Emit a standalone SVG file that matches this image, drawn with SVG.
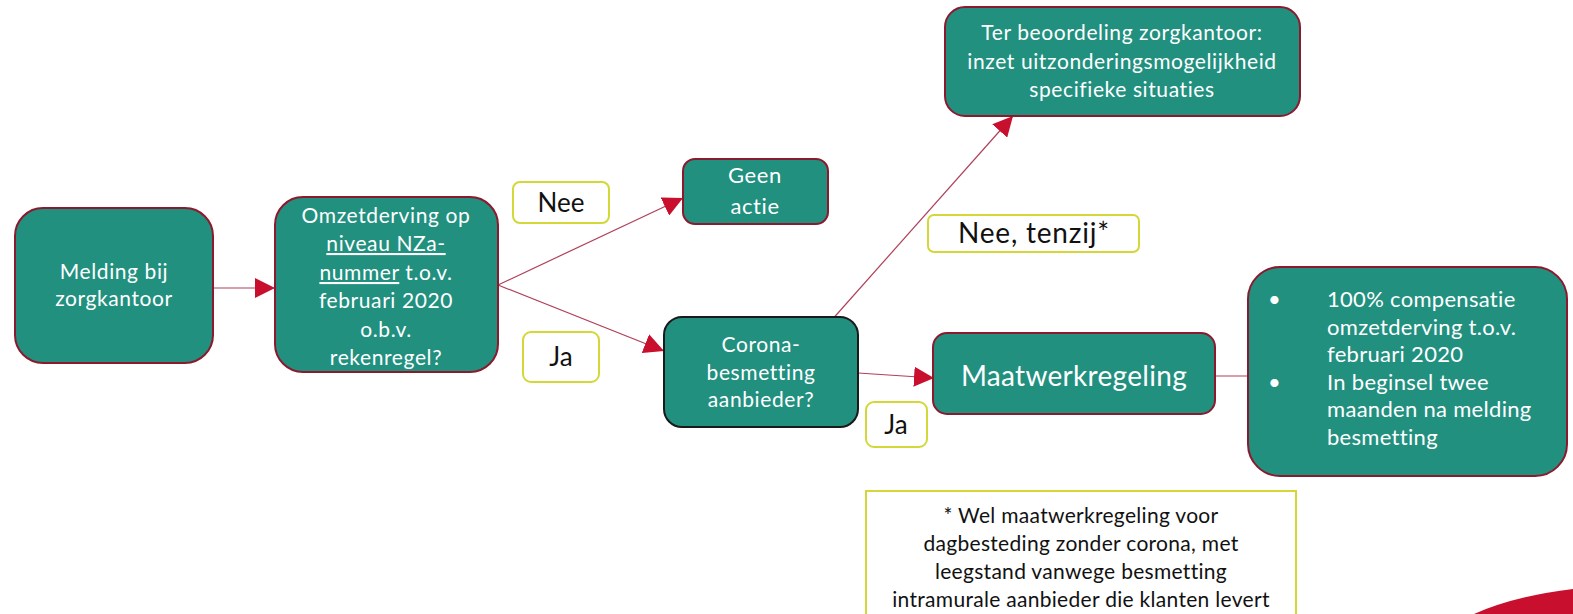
<svg xmlns="http://www.w3.org/2000/svg" width="1573" height="614" viewBox="0 0 1573 614">
<style>
.node{fill:#21907f;stroke:#8b1a2e;stroke-width:2}
.nodeb{fill:#21907f;stroke:#1a1a1a;stroke-width:2}
.lab{fill:#ffffff;stroke:#d3d838;stroke-width:2}
.t{font-family:Lato,"Open Sans",sans-serif;fill:#ffffff;text-anchor:middle;font-size:21px;letter-spacing:0.6px}
.b{font-family:Lato,"Open Sans",sans-serif;fill:#ffffff;text-anchor:start;font-size:22px;letter-spacing:0.3px}
.k{font-family:Lato,"Noto Sans",sans-serif;fill:#111111;text-anchor:middle}
.c{stroke:#b0405a;stroke-width:1.2;fill:none}
</style>
<defs>
<marker id="ahl" viewBox="0 0 10 10" refX="10" refY="5" markerWidth="20" markerHeight="20" markerUnits="userSpaceOnUse" orient="auto">
<path d="M0,0 L10,5 L0,10 Z" fill="#c8102e"/>
</marker>
</defs>
<g id="connectors">
<line class="c" x1="213" y1="288" x2="275" y2="288" marker-end="url(#ahl)"/>
<line class="c" x1="498" y1="285" x2="683" y2="198" marker-end="url(#ahl)"/>
<line class="c" x1="498" y1="285" x2="664" y2="351" marker-end="url(#ahl)"/>
<line class="c" x1="830" y1="322" x2="1013" y2="116" marker-end="url(#ahl)"/>
<line class="c" x1="858" y1="373" x2="934" y2="378" marker-end="url(#ahl)"/>
<line class="c" x1="1216" y1="376" x2="1249" y2="376"/>
</g>
<g id="melding">
<rect class="node" x="15" y="208" width="198" height="155" rx="28"/>
<text class="t" x="114" y="279">Melding bij</text>
<text class="t" x="114" y="306">zorgkantoor</text>
</g>
<g id="omzetderving">
<rect class="node" x="275" y="197" width="223" height="175" rx="28"/>
<text class="t" x="386" y="223">Omzetderving op</text>
<text class="t" x="386" y="251" text-decoration="underline">niveau NZa-</text>
<text class="t" x="386" y="280"><tspan text-decoration="underline">nummer</tspan> t.o.v.</text>
<text class="t" x="386" y="308">februari 2020</text>
<text class="t" x="386" y="337">o.b.v.</text>
<text class="t" x="386" y="365">rekenregel?</text>
</g>
<g id="label-nee">
<rect class="lab" x="513" y="182" width="96" height="41" rx="7"/>
<text class="k" x="561" y="212" font-size="26">Nee</text>
</g>
<g id="geen-actie">
<rect class="node" x="683" y="159" width="145" height="65" rx="12"/>
<text class="t" x="755" y="183" style="font-size:22px">Geen</text>
<text class="t" x="755" y="214" style="font-size:22px">actie</text>
</g>
<g id="label-ja1">
<rect class="lab" x="523" y="332" width="76" height="50" rx="8"/>
<text class="k" x="561" y="366" font-size="26">Ja</text>
</g>
<g id="corona">
<rect class="nodeb" x="664" y="317" width="194" height="110" rx="18"/>
<text class="t" x="761" y="352">Corona-</text>
<text class="t" x="761" y="380">besmetting</text>
<text class="t" x="761" y="407">aanbieder?</text>
</g>
<g id="ter-beoordeling">
<rect class="node" x="945" y="7" width="355" height="109" rx="20"/>
<text class="t" x="1122" y="40">Ter beoordeling zorgkantoor:</text>
<text class="t" x="1122" y="69">inzet uitzonderingsmogelijkheid</text>
<text class="t" x="1122" y="97">specifieke situaties</text>
</g>
<g id="label-nee-tenzij">
<rect class="lab" x="928" y="215" width="211" height="37" rx="6"/>
<text class="k" x="1034" y="243" font-size="28" letter-spacing="0.8">Nee, tenzij*</text>
</g>
<g id="maatwerkregeling">
<rect class="node" x="933" y="333" width="282" height="81" rx="14"/>
<text class="t" x="1074" y="386" style="font-size:28px;letter-spacing:0.3px">Maatwerkregeling</text>
</g>
<g id="label-ja2">
<rect class="lab" x="866" y="402" width="61" height="45" rx="8"/>
<text class="k" x="896" y="434" font-size="26">Ja</text>
</g>
<g id="compensatie">
<rect class="node" x="1248" y="267" width="319" height="209" rx="32"/>
<text class="b" x="1268" y="307">•</text>
<text class="b" x="1327" y="307">100% compensatie</text>
<text class="b" x="1327" y="335">omzetderving t.o.v.</text>
<text class="b" x="1327" y="362">februari 2020</text>
<text class="b" x="1268" y="390">•</text>
<text class="b" x="1327" y="390">In beginsel twee</text>
<text class="b" x="1327" y="417">maanden na melding</text>
<text class="b" x="1327" y="445">besmetting</text>
</g>
<g id="voetnoot">
<rect x="866" y="491" width="430" height="130" fill="#ffffff" stroke="#d3d838" stroke-width="2"/>
<text class="k" x="1081" y="523" font-size="21" letter-spacing="0.3">* Wel maatwerkregeling voor</text>
<text class="k" x="1081" y="551" font-size="21" letter-spacing="0.3">dagbesteding zonder corona, met</text>
<text class="k" x="1081" y="579" font-size="21" letter-spacing="0.3">leegstand vanwege besmetting</text>
<text class="k" x="1081" y="607" font-size="21" letter-spacing="0.3">intramurale aanbieder die klanten levert</text>
</g>
<path d="M1474,614 Q1515,596 1573,589 L1573,614 Z" fill="#c8102e"/>
</svg>
